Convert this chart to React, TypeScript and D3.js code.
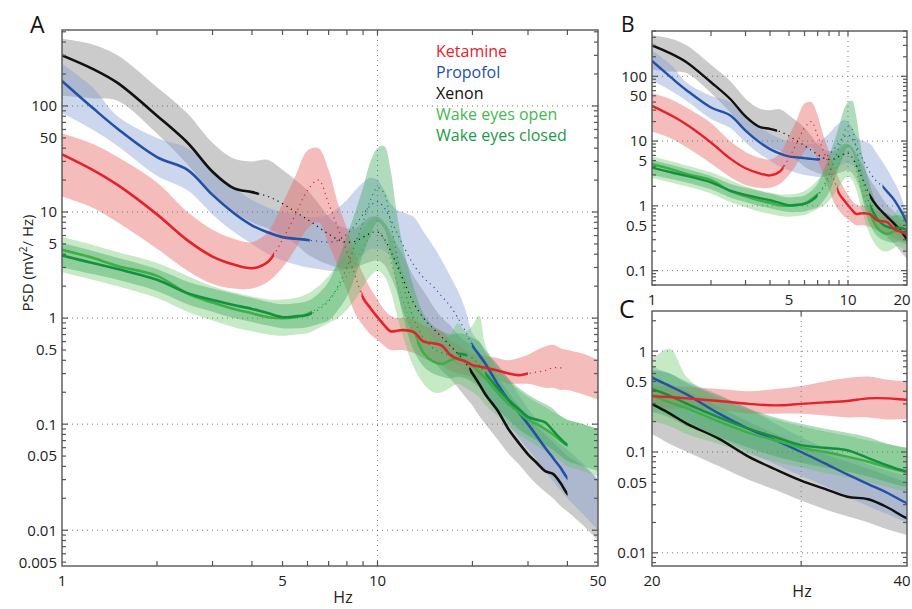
import React, { useRef, useEffect } from "react";
import * as d3 from "d3";

// frequency grid (Hz) shared by all series
const freqs = [
  1, 1.25, 1.5, 2, 2.5, 3, 3.5, 4, 4.5, 5,
  5.5, 6, 6.5, 7, 7.5, 8, 8.5, 9, 9.5, 10,
  10.5, 11, 11.5, 12, 13, 14, 15, 16, 17, 18,
  19, 20, 21, 22, 24, 26, 28, 30, 32, 34,
  36, 38, 40, 45, 50,
];

const ketamineMed = [
  35, 25, 18, 9.5, 5.4, 3.8, 3.2, 2.95, 3.4, 5.5,
  9.5, 16, 20, 12, 7, 4.2, 2.5, 1.55, 1.24, 1.02,
  0.86, 0.75, 0.76, 0.77, 0.74, 0.6, 0.58, 0.55, 0.45, 0.41,
  0.39, 0.36, 0.35, 0.34, 0.32, 0.3, 0.29, 0.3, 0.31, 0.32,
  0.34, 0.34, 0.33, 0.33, 0.33,
];
const ketamineLo = [
  14, 11, 8, 4.5, 2.8, 2.1, 1.9, 1.9, 2.2, 3,
  4.5, 7, 8, 5, 3, 1.8, 1.1, 0.85, 0.7, 0.62,
  0.55, 0.5, 0.5, 0.5, 0.47, 0.42, 0.38, 0.36, 0.32, 0.3,
  0.29, 0.28, 0.27, 0.27, 0.26, 0.24, 0.24, 0.24, 0.23, 0.22,
  0.22, 0.21, 0.21, 0.19, 0.17,
];
const ketamineHi = [
  55, 44, 33, 19, 10, 6.8, 5.6, 5.2, 6.5, 12,
  22, 38, 40, 25, 12, 7, 4, 2.6, 1.9, 1.5,
  1.2, 1.05, 1.0, 1.0, 0.98, 0.85, 0.8, 0.75, 0.62, 0.56,
  0.5, 0.46, 0.45, 0.44, 0.42, 0.4, 0.42, 0.45, 0.5, 0.54,
  0.56, 0.52, 0.5, 0.46, 0.4,
];

const propofolMed = [
  172, 96, 61, 33, 25, 14.5, 9.8, 7.5, 6.4, 5.8,
  5.6, 5.45, 5.3, 5.2, 5.4, 6.2, 7.5, 9.5, 11.5, 12.5,
  11, 8.5, 6.5, 5, 3.2, 2.4, 2.0, 1.6, 1.3, 1.0,
  0.75, 0.55, 0.45, 0.37, 0.24, 0.17, 0.13, 0.1, 0.077, 0.06,
  0.048, 0.039, 0.031, 0.022, 0.016,
];
const propofolLo = [
  86, 60, 42, 22, 16, 9.5, 6.5, 5, 4, 3.5,
  3.2, 3, 2.9, 2.8, 2.8, 3, 3.5, 4, 4.5, 4.5,
  4.3, 3.8, 3.2, 2.5, 1.5, 0.9, 0.65, 0.5, 0.42, 0.36,
  0.32, 0.3, 0.25, 0.2, 0.14, 0.1, 0.075, 0.058, 0.046, 0.036,
  0.029, 0.024, 0.02, 0.014, 0.01,
];
const propofolHi = [
  250, 150, 80, 50, 40, 25, 17, 13, 11, 10,
  9.5, 9, 9, 9.5, 11, 13, 16, 19, 21, 20,
  16, 12, 10.5, 10, 9, 6.5, 4.8, 3.5, 2.5, 1.8,
  1.2, 0.72, 0.6, 0.5, 0.37, 0.27, 0.19, 0.14, 0.11, 0.09,
  0.075, 0.065, 0.057, 0.042, 0.03,
];

const xenonMed = [
  300, 224, 165, 81, 45, 24, 16.8, 15.4, 14, 12,
  10, 8.5, 7.2, 6.2, 5.5, 5.2, 5.3, 5.8, 6.3, 6.5,
  5.6, 4.3, 3.2, 2.4, 1.4, 1.0, 0.8, 0.66, 0.55, 0.46,
  0.38, 0.3, 0.24, 0.19, 0.135, 0.09, 0.067, 0.052, 0.043, 0.036,
  0.034, 0.028, 0.022, 0.016, 0.012,
];
const xenonLo = [
  125, 118, 112, 55, 28, 15, 10, 8, 7, 6,
  5, 4, 3.5, 3.2, 3, 2.9, 3, 3.2, 3.4, 3.5,
  3.2, 2.5, 1.8, 1.2, 0.7, 0.5, 0.4, 0.32, 0.27, 0.22,
  0.18, 0.15, 0.12, 0.1, 0.072, 0.053, 0.042, 0.033, 0.027, 0.023,
  0.02, 0.017, 0.015, 0.011, 0.008,
];
const xenonHi = [
  430, 380, 300, 150, 85, 45, 32, 30, 31, 25,
  20, 16, 12, 9, 7.5, 7, 7, 8, 9, 9,
  8, 6.5, 5, 4, 2.5, 1.8, 1.3, 1.0, 0.85, 0.7,
  0.6, 0.55, 0.47, 0.4, 0.28, 0.2, 0.15, 0.12, 0.095, 0.08,
  0.068, 0.058, 0.05, 0.04, 0.03,
];

const openMed = [
  4.4, 3.7, 3.1, 2.5, 1.7, 1.4, 1.22, 1.11, 1.02, 1.0,
  1.02, 1.09, 1.25, 1.5, 1.9, 2.5, 3.3, 4.5, 6, 6.8,
  5.5, 3.5, 2.2, 1.5, 0.75, 0.47, 0.39, 0.37, 0.4, 0.42,
  0.39, 0.36, 0.31, 0.27, 0.2, 0.155, 0.13, 0.11, 0.1, 0.09,
  0.08, 0.07, 0.063, 0.055, 0.05,
];
const openLo = [
  2.7, 2.3, 2.0, 1.55, 1.15, 0.95, 0.82, 0.75, 0.7, 0.68,
  0.7, 0.72, 0.8, 0.9, 1.0, 1.2, 1.5, 2, 2.5, 2.8,
  2.5, 1.8, 1.1, 0.7, 0.35, 0.24, 0.2, 0.2, 0.22, 0.24,
  0.22, 0.2, 0.18, 0.15, 0.12, 0.095, 0.08, 0.07, 0.062, 0.056,
  0.05, 0.045, 0.04, 0.036, 0.032,
];
const openHi = [
  5.8, 4.9, 4.2, 3.3, 2.5, 2.0, 1.75, 1.6, 1.5, 1.5,
  1.55, 1.7, 2.0, 2.5, 3.2, 4.2, 5.5, 7, 8.5, 9,
  8, 6, 4, 2.8, 1.5, 0.9, 0.7, 0.65, 0.7, 0.9,
  0.75, 0.85, 1.05, 0.55, 0.33, 0.26, 0.21, 0.18, 0.16, 0.145,
  0.13, 0.12, 0.11, 0.1, 0.09,
];

const closedMed = [
  3.9, 3.3, 2.9, 2.3, 1.72, 1.48, 1.33, 1.22, 1.11, 1.02,
  1.04, 1.07, 1.2, 1.45, 2, 3, 5, 8, 13, 17,
  15, 8, 4, 2.2, 1.0, 0.65, 0.52, 0.47, 0.45, 0.46,
  0.45, 0.42, 0.36, 0.3, 0.22, 0.17, 0.14, 0.117, 0.11, 0.104,
  0.087, 0.073, 0.064, 0.06, 0.055,
];
const closedLo = [
  3.0, 2.6, 2.3, 1.8, 1.35, 1.15, 1.0, 0.92, 0.85, 0.8,
  0.8, 0.82, 0.88, 0.95, 1.2, 1.6, 2.5, 4, 6, 8,
  7, 4, 2, 1.1, 0.5, 0.35, 0.3, 0.28, 0.27, 0.28,
  0.27, 0.25, 0.22, 0.18, 0.14, 0.11, 0.09, 0.078, 0.07, 0.064,
  0.057, 0.05, 0.045, 0.04, 0.036,
];
const closedHi = [
  5.1, 4.3, 3.7, 2.9, 2.2, 1.9, 1.7, 1.55, 1.42, 1.35,
  1.38, 1.45, 1.7, 2.2, 3.5, 6, 10, 17, 30, 40,
  42, 25, 10, 5, 2, 1.1, 0.85, 0.75, 0.7, 0.72,
  0.7, 0.65, 0.6, 0.48, 0.36, 0.27, 0.22, 0.19, 0.17, 0.155,
  0.14, 0.12, 0.11, 0.1, 0.09,
];

// order: ketamine, propofol, xenon, wake open, wake closed
const seriesNames = ["Ketamine", "Propofol", "Xenon", "Wake eyes open", "Wake eyes closed"];

// frequency ranges (Hz) where the median is drawn solid, per panel
const solidA = [
  [[1, 4.7], [8.9, 30]],
  [[1, 6.1], [19.9, 40]],
  [[1, 4.2], [19.6, 40]],
  [[1, 6.2], [13.3, 40]],
  [[1, 6.2], [18, 19.2], [22, 40]],
];
const solidB = [
  [[1, 4.7], [8.8, 20]],
  [[1, 7.2], [15, 20]],
  [[1, 4.35], [12.9, 20]],
  [[1, 7], [13, 20]],
  [[1, 7], [13, 20]],
];
const solidC = [[[20, 40]], [[20, 40]], [[20, 40]], [[20, 40]], [[20, 40]]];
const dottedRange = [[1, 39], [1, 40], [1, 40], [1, 40], [1, 40]];

const yLabelsA = [100, 50, 10, 5, 1, 0.5, 0.1, 0.05, 0.01, 0.005];
const yLabelsB = [100, 50, 10, 5, 1, 0.5, 0.1];
const yLabelsC = [1, 0.5, 0.1, 0.05, 0.01];
const xLabelsA = [1, 5, 10, 50];
const xLabelsB = [1, 5, 10, 20];
const xLabelsC = [20, 40];

const FONT = "'Open Sans', 'Liberation Sans', sans-serif";

const SERIES = [
  { med: ketamineMed, lo: ketamineLo, hi: ketamineHi, line: "#e3232b", fill: "#e86a6a", op: 0.45 },
  { med: propofolMed, lo: propofolLo, hi: propofolHi, line: "#2451a6", fill: "#7f9bd3", op: 0.4 },
  { med: xenonMed, lo: xenonLo, hi: xenonHi, line: "#111111", fill: "#8c8c8c", op: 0.45 },
  { med: openMed, lo: openLo, hi: openHi, line: "#3cb044", fill: "#5cbf5c", op: 0.35 },
  { med: closedMed, lo: closedLo, hi: closedHi, line: "#14903e", fill: "#3aa55a", op: 0.4 },
];
const legendColors = ["#e3232b", "#2451a6", "#111111", "#45b94f", "#1a9a4a"];

const bandOrder = [2, 1, 0, 3, 4];
const lineOrder = [2, 1, 3, 4, 0];

type Panel = {
  id: string;
  left: number; right: number; top: number; bottom: number;
  xDom: [number, number]; yDom: [number, number];
  yLabels: number[]; xLabels: number[];
  xTicks: number[]; xGrid: number[]; yGrid: number[];
  solid: number[][][];
  lw: number;
};

const panels: Panel[] = [
  {
    id: "A", left: 62, right: 598, top: 30, bottom: 566,
    xDom: [1, 50], yDom: [0.0046, 520],
    yLabels: yLabelsA, xLabels: xLabelsA,
    xTicks: [2, 3, 4, 5, 6, 7, 8, 9, 10, 20, 30, 40],
    xGrid: [10], yGrid: [100, 10, 1, 0.1, 0.01],
    solid: solidA, lw: 2.6,
  },
  {
    id: "B", left: 652, right: 907, top: 31, bottom: 285,
    xDom: [1, 20], yDom: [0.06, 500],
    yLabels: yLabelsB, xLabels: xLabelsB,
    xTicks: [2, 3, 4, 5, 6, 7, 8, 9, 10],
    xGrid: [10], yGrid: [100, 10, 1, 0.1],
    solid: solidB, lw: 2.4,
  },
  {
    id: "C", left: 652, right: 907, top: 311, bottom: 566,
    xDom: [20, 40], yDom: [0.0074, 2.5],
    yLabels: yLabelsC, xLabels: xLabelsC,
    xTicks: [30],
    xGrid: [30], yGrid: [1, 0.1, 0.01],
    solid: solidC, lw: 2.4,
  },
];

function drawPanel(svg: d3.Selection<SVGSVGElement, unknown, null, undefined>, p: Panel) {
  const x = d3.scaleLog().domain(p.xDom).range([p.left, p.right]);
  const y = d3.scaleLog().domain(p.yDom).range([p.bottom, p.top]);
  const defs = svg.append("defs");
  const w = p.right - p.left;
  const h = p.bottom - p.top;

  const clipId = `clip-${p.id}`;
  defs.append("clipPath").attr("id", clipId)
    .append("rect").attr("x", p.left).attr("y", p.top).attr("width", w).attr("height", h);

  const rangeClip = (id: string, ranges: number[][]) => {
    const cp = defs.append("clipPath").attr("id", id);
    ranges.forEach(([a, b]) => {
      cp.append("rect")
        .attr("x", x(a)).attr("y", p.top - 10)
        .attr("width", Math.max(0, x(b) - x(a))).attr("height", h + 20);
    });
  };

  const g = svg.append("g");
  const plot = g.append("g").attr("clip-path", `url(#${clipId})`);

  // shaded bands
  bandOrder.forEach((si) => {
    const s = SERIES[si];
    const pts = freqs.map((f, i) => ({ f, lo: s.lo[i], hi: s.hi[i] }));
    const area = d3.area<{ f: number; lo: number; hi: number }>()
      .x((d) => x(d.f)).y0((d) => y(d.lo)).y1((d) => y(d.hi))
      .curve(d3.curveCatmullRom.alpha(0.5));
    plot.append("path").attr("d", area(pts)!)
      .attr("fill", s.fill).attr("fill-opacity", s.op);
  });

  // dotted grid
  p.yGrid.forEach((v) => {
    plot.append("line").attr("x1", p.left).attr("x2", p.right)
      .attr("y1", y(v)).attr("y2", y(v))
      .attr("stroke", "#777").attr("stroke-width", 1).attr("stroke-dasharray", "1,4");
  });
  p.xGrid.forEach((v) => {
    plot.append("line").attr("y1", p.top).attr("y2", p.bottom)
      .attr("x1", x(v)).attr("x2", x(v))
      .attr("stroke", "#777").attr("stroke-width", 1).attr("stroke-dasharray", "1,4");
  });

  // medians: dotted everywhere, solid where significant
  lineOrder.forEach((si) => {
    const s = SERIES[si];
    const pts = freqs.map((f, i) => ({ f, v: s.med[i] }));
    const line = d3.line<{ f: number; v: number }>()
      .x((d) => x(d.f)).y((d) => y(d.v))
      .curve(d3.curveCatmullRom.alpha(0.5));
    const dId = `dot-${p.id}-${si}`;
    rangeClip(dId, [dottedRange[si]]);
    plot.append("path").attr("d", line(pts)!)
      .attr("fill", "none").attr("stroke", s.line).attr("stroke-width", 1.2)
      .attr("stroke-dasharray", "1.2,4").attr("clip-path", `url(#${dId})`);
    const sId = `sol-${p.id}-${si}`;
    rangeClip(sId, p.solid[si]);
    plot.append("path").attr("d", line(pts)!)
      .attr("fill", "none").attr("stroke", s.line).attr("stroke-width", p.lw)
      .attr("stroke-linejoin", "round").attr("clip-path", `url(#${sId})`);
  });

  // frame
  g.append("rect").attr("x", p.left).attr("y", p.top).attr("width", w).attr("height", h)
    .attr("fill", "none").attr("stroke", "#555").attr("stroke-width", 1.4);

  // y ticks (log minor ticks)
  const [ylo, yhi] = p.yDom;
  const yt: { v: number; major: boolean }[] = [];
  for (let k = Math.floor(Math.log10(ylo)); k <= Math.ceil(Math.log10(yhi)); k++) {
    for (let m = 1; m <= 9; m++) {
      const v = m * Math.pow(10, k);
      if (v >= ylo && v <= yhi) yt.push({ v, major: m === 1 });
    }
  }
  yt.forEach((t) => {
    const len = t.major ? 6 : 4;
    const yy = y(t.v);
    g.append("line").attr("x1", p.left).attr("x2", p.left + len).attr("y1", yy).attr("y2", yy)
      .attr("stroke", "#555").attr("stroke-width", 1.2);
    g.append("line").attr("x1", p.right).attr("x2", p.right - len).attr("y1", yy).attr("y2", yy)
      .attr("stroke", "#555").attr("stroke-width", 1.2);
  });
  p.xTicks.forEach((v) => {
    const xx = x(v);
    g.append("line").attr("x1", xx).attr("x2", xx).attr("y1", p.bottom).attr("y2", p.bottom - 5)
      .attr("stroke", "#555").attr("stroke-width", 1.2);
    g.append("line").attr("x1", xx).attr("x2", xx).attr("y1", p.top).attr("y2", p.top + 5)
      .attr("stroke", "#555").attr("stroke-width", 1.2);
  });

  // tick labels
  p.yLabels.forEach((v) => {
    g.append("text").attr("x", p.left - 5).attr("y", y(v)).attr("dy", "0.36em")
      .attr("text-anchor", "end").attr("font-family", FONT).attr("font-size", 15)
      .attr("fill", "#222").text(String(v));
  });
  p.xLabels.forEach((v) => {
    // keep the right-most label inside the 912px page
    const xx = Math.min(x(v), 902);
    g.append("text").attr("x", xx).attr("y", p.bottom + 20)
      .attr("text-anchor", "middle").attr("font-family", FONT).attr("font-size", 15)
      .attr("fill", "#222").text(String(v));
  });
}

export default function App() {
  const ref = useRef<SVGSVGElement>(null);

  useEffect(() => {
    if (!ref.current) return;
    const svg = d3.select(ref.current);
    svg.selectAll("*").remove();
    svg.append("rect").attr("width", 912).attr("height", 609).attr("fill", "#fff");

    panels.forEach((p) => drawPanel(svg, p));

    // panel letters
    const letters = [
      { t: "A", x: 30, y: 33, s: 23 },
      { t: "B", x: 621, y: 32, s: 21 },
      { t: "C", x: 619, y: 318, s: 25 },
    ];
    letters.forEach((l) => {
      svg.append("text").attr("x", l.x).attr("y", l.y)
        .attr("font-family", FONT).attr("font-size", l.s).attr("fill", "#111").text(l.t);
    });

    // axis titles
    const yl = svg.append("text")
      .attr("transform", "translate(33,263) rotate(-90)")
      .attr("text-anchor", "middle").attr("font-family", FONT).attr("font-size", 15).attr("fill", "#222");
    yl.append("tspan").text("PSD (mV");
    yl.append("tspan").attr("dy", -6).attr("font-size", 10).text("2");
    yl.append("tspan").attr("dy", 6).text("/ Hz)");

    svg.append("text").attr("x", 343).attr("y", 603).attr("text-anchor", "middle")
      .attr("font-family", FONT).attr("font-size", 16).attr("fill", "#222").text("Hz");
    svg.append("text").attr("x", 802).attr("y", 597).attr("text-anchor", "middle")
      .attr("font-family", FONT).attr("font-size", 16).attr("fill", "#222").text("Hz");

    // legend
    seriesNames.forEach((n, i) => {
      svg.append("text").attr("x", 436).attr("y", 57 + i * 21)
        .attr("font-family", FONT).attr("font-size", 16)
        .attr("fill", legendColors[i]).text(n);
    });
  }, []);

  return (
    <svg
      ref={ref}
      width={912}
      height={609}
      style={{ position: "absolute", left: 0, top: 0, display: "block" }}
    />
  );
}
